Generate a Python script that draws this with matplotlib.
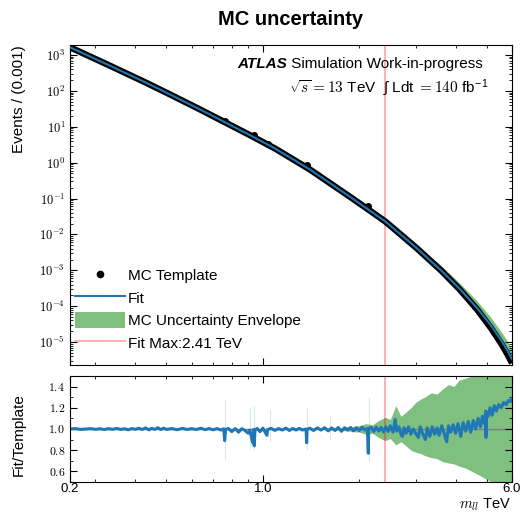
import numpy as np
import matplotlib
matplotlib.use("Agg")
import matplotlib.pyplot as plt
from matplotlib.lines import Line2D
from matplotlib.ticker import (FixedLocator, FixedFormatter, MultipleLocator,
                               FormatStrFormatter, LogLocator, NullFormatter,
                               FuncFormatter)

plt.rcParams['font.family'] = ['Liberation Sans', 'DejaVu Sans']
plt.rcParams['mathtext.fontset'] = 'cm'

# fit curve (events per 0.001 TeV)
fit_mass = [0.25, 0.333, 0.429, 0.50, 0.637, 0.912, 1.092, 1.40, 1.60, 1.872, 2.10,
            2.409, 2.75, 3.032, 3.628, 4.129, 4.667, 5.125, 5.35, 5.586, 5.80, 6.00]
fit_events = [1639, 503, 173.6, 89.1, 30.3, 5.82, 2.471, 0.651, 0.290, 0.1115, 0.0547,
              0.02317, 8.52e-3, 4.05e-3, 9.38e-4, 2.96e-4, 8.91e-5, 3.13e-5, 1.795e-5,
              1.026e-5, 5.85e-6, 3.34e-6]
# uncertainty envelope around the fit (relative), upper panel
band_hi = [1, 1, 1, 1, 1, 1, 1, 1, 1, 1.02, 1.04, 1.10, 1.15, 1.22, 1.35, 1.47, 1.57,
           1.65, 1.70, 1.75, 1.82, 1.90]
band_lo = [0.97, 0.97, 0.97, 0.97, 0.97, 0.97, 0.97, 0.97, 0.97, 0.97, 0.97, 0.97,
           0.97, 0.97, 0.97, 0.97, 0.97, 0.97, 0.97, 0.97, 0.97, 0.97]

# MC template (dense bins) and the few bins that stick out of the band
tmpl_mass = [0.25, 0.333, 0.429, 0.50, 0.637, 0.912, 1.092, 1.40, 1.60, 1.872, 2.10,
             2.409, 2.75, 3.032, 3.628, 4.129, 4.667, 5.125, 5.35, 5.586, 5.80, 6.00]
tmpl_events = [1639, 503, 173.6, 89.1, 30.3, 5.82, 2.471, 0.651, 0.290, 0.1115, 0.0547,
               0.02317, 8.52e-3, 4.05e-3, 9.3e-4, 2.85e-4, 8.1e-5, 2.65e-5, 1.50e-5,
               8.34e-6, 4.64e-6, 2.59e-6]
tmpl_out_mass = [0.762, 0.94, 1.04, 1.37, 2.135]
tmpl_out_events = [14.9, 6.03, 3.31, 0.839, 0.0638]

# ratio fit / template
ratio_mass = [0.25, 0.26, 0.27, 0.28, 0.29, 0.30, 0.31, 0.32, 0.33, 0.34, 0.35, 0.36,
              0.37, 0.38, 0.39, 0.40, 0.41, 0.42, 0.43, 0.44, 0.45, 0.46, 0.47, 0.48,
              0.49, 0.50, 0.52, 0.54, 0.56, 0.58, 0.60, 0.62, 0.64, 0.66, 0.68, 0.70,
              0.72, 0.74, 0.755, 0.76, 0.765, 0.78, 0.80, 0.82, 0.84, 0.86, 0.88, 0.90,
              0.91, 0.93, 0.935, 0.94, 0.945, 0.96, 0.98, 1.00, 1.03, 1.035, 1.06, 1.09,
              1.12, 1.15, 1.18, 1.21, 1.24, 1.27, 1.30, 1.33, 1.365, 1.37, 1.375, 1.40,
              1.44, 1.48, 1.52, 1.56, 1.60, 1.64, 1.68, 1.72, 1.76, 1.80, 1.84, 1.88,
              1.92, 1.96, 2.00, 2.04, 2.08, 2.12, 2.135, 2.14, 2.18, 2.22, 2.26, 2.30,
              2.34, 2.38, 2.42, 2.46, 2.50, 2.55, 2.59, 2.62, 2.66, 2.70, 2.73, 2.76,
              2.80, 2.85, 2.90, 2.95, 3.00, 3.06, 3.10, 3.16, 3.22, 3.26, 3.32, 3.38,
              3.44, 3.50, 3.55, 3.62, 3.68, 3.75, 3.80, 3.86, 3.93, 4.00, 4.07, 4.15,
              4.22, 4.30, 4.38, 4.46, 4.54, 4.62, 4.70, 4.78, 4.85, 4.92, 4.97, 4.975,
              4.98, 5.05, 5.12, 5.20, 5.28, 5.36, 5.45, 5.55, 5.65, 5.75, 5.85, 5.95, 6.00]
ratio_vals = [1.000, 1.004, 0.996, 1.000, 1.003, 0.997, 1.002, 0.995, 1.003, 0.997,
              1.005, 0.996, 1.002, 0.992, 1.004, 0.997, 1.007, 0.995, 1.010, 0.993,
              1.005, 0.996, 1.012, 0.994, 1.008, 0.996, 1.004, 0.993, 1.005, 0.996,
              1.003, 0.995, 1.007, 0.994, 1.004, 0.992, 1.004, 0.990, 1.002, 0.890,
              0.995, 1.005, 0.975, 1.004, 0.970, 1.003, 0.985, 0.960, 0.990, 0.870,
              0.995, 0.840, 0.990, 1.005, 0.975, 1.008, 0.940, 0.995, 1.006, 0.987,
              1.004, 0.990, 1.008, 0.986, 1.005, 0.990, 1.006, 0.990, 1.000, 0.870,
              0.995, 1.008, 0.986, 1.010, 0.990, 1.012, 0.982, 1.010, 0.986, 1.014,
              0.978, 1.012, 0.990, 1.014, 0.982, 1.012, 0.986, 1.018, 0.990, 1.005,
              0.770, 1.000, 1.015, 0.976, 1.018, 0.980, 1.015, 0.972, 1.020, 0.976,
              1.030, 0.970, 1.090, 0.980, 1.020, 0.950, 0.930, 1.010, 0.960, 1.020,
              0.950, 1.000, 0.960, 0.920, 1.020, 0.950, 0.900, 1.010, 0.930, 1.020,
              0.950, 1.010, 0.940, 1.030, 0.960, 0.880, 1.030, 0.970, 1.040, 0.960,
              1.050, 0.930, 1.060, 0.980, 1.070, 0.970, 1.080, 1.000, 1.100, 1.020,
              1.120, 1.050, 1.170, 0.920, 1.150, 1.120, 1.200, 1.130, 1.220, 1.170,
              1.230, 1.200, 1.250, 1.230, 1.270, 1.260, 1.290]

# uncertainty envelope in the ratio panel
env_mass = [0.25, 1.50, 1.70, 1.85, 2.00, 2.10, 2.20, 2.30, 2.41, 2.50, 2.60, 2.70,
            2.80, 2.90, 3.00, 3.10, 3.20, 3.35, 3.50, 3.65, 3.80, 3.95, 4.10, 4.30,
            4.50, 4.70, 4.90, 5.10, 5.30, 5.50, 5.70, 6.00]
env_hi = [1.00, 1.005, 1.01, 1.02, 1.03, 1.05, 1.04, 1.08, 1.11, 1.09, 1.22, 1.12,
          1.16, 1.20, 1.25, 1.28, 1.30, 1.34, 1.33, 1.38, 1.42, 1.40, 1.46, 1.48,
          1.50, 1.53, 1.58, 1.63, 1.70, 1.78, 1.84, 1.92]
env_lo = [1.00, 0.995, 0.99, 0.98, 0.97, 0.95, 0.96, 0.92, 0.89, 0.91, 0.85, 0.88,
          0.84, 0.80, 0.78, 0.77, 0.75, 0.73, 0.72, 0.69, 0.68, 0.67, 0.65, 0.63,
          0.60, 0.57, 0.54, 0.51, 0.48, 0.45, 0.42, 0.38]
# single bins with a large uncertainty at low mass
spike_mass = [0.44, 0.76, 0.91, 0.94, 1.05, 1.37, 1.62, 2.14]
spike_lo = [0.97, 0.72, 0.82, 0.80, 0.88, 0.80, 0.90, 0.70]
spike_hi = [1.03, 1.28, 1.20, 1.22, 1.18, 1.20, 1.12, 1.30]

fit_max = 2.41

fig = plt.figure(figsize=(5.21, 5.14), dpi=100)
ax = fig.add_axes([0.1344, 0.2899, 0.8484, 0.6226])
rax = fig.add_axes([0.1344, 0.0623, 0.8484, 0.2062], sharex=ax)

fit = np.array(fit_events)
band = ax.fill_between(fit_mass, fit * np.array(band_lo), fit * np.array(band_hi),
                       color='green', alpha=0.5, lw=0, zorder=1)
vl = ax.axvline(fit_max, color='red', alpha=0.3, lw=1.5, zorder=1.5)
ax.plot(tmpl_mass, tmpl_events, color='k', lw=4.6, solid_capstyle='butt',
        solid_joinstyle='round', zorder=2)
ax.plot(tmpl_out_mass, tmpl_out_events, 'o', color='k', ms=4, zorder=2)
fl, = ax.plot(fit_mass, fit_events, color='#1f77b4', lw=1.5, zorder=3)
dot = Line2D([], [], color='k', marker='o', ls='none', ms=4.5)

ax.set_xscale('log')
ax.set_yscale('log')
ax.set_xlim(0.25, 6.0)
ax.set_ylim(2.3e-6, 1.9e3)
ax.yaxis.set_major_locator(LogLocator(base=10, numticks=20))
ax.yaxis.set_minor_locator(LogLocator(base=10, subs=np.arange(2, 10), numticks=20))
ax.yaxis.set_major_formatter(FuncFormatter(lambda v, p: r'$10^{%d}$' % round(np.log10(v))))
ax.yaxis.set_minor_formatter(NullFormatter())
ax.set_ylabel('Events / (0.001)', fontsize=11, loc='top')
ax.yaxis.set_label_coords(-0.1, 1.0)

ax.legend([dot, fl, band, vl],
          ['MC Template', 'Fit', 'MC Uncertainty Envelope', 'Fit Max:%.2f TeV' % fit_max],
          loc='lower left', bbox_to_anchor=(0.0, 0.03), frameon=False, fontsize=11,
          handlelength=3.3, handleheight=1.3, handletextpad=0.2, labelspacing=0.38,
          borderaxespad=0.0, borderpad=0.3)

t = ax.text(0.378, 0.94, 'ATLAS', transform=ax.transAxes, fontsize=11,
            fontweight='bold', fontstyle='italic', va='center')
ax.annotate(' Simulation Work-in-progress', xy=(1, 0), xycoords=t, fontsize=11,
            va='bottom', ha='left')
ax.text(0.9457, 0.868, r'$\sqrt{s} = 13$ TeV  ∫ Ldt $= 140$ fb$^{\mathregular{-1}}$',
        transform=ax.transAxes, fontsize=11, ha='right', va='center')

# ratio panel
rax.fill_between(env_mass, env_lo, env_hi, color='green', alpha=0.5, lw=0, zorder=1)
rax.vlines(spike_mass, spike_lo, spike_hi, color='green', alpha=0.15, lw=0.8, zorder=1)
rax.axhline(1.0, color='gray', lw=1, zorder=1.5)
rax.axvline(fit_max, color='red', alpha=0.3, lw=1.5, zorder=1.6)
rax.plot(ratio_mass, ratio_vals, color='#1f77b4', lw=2.2, zorder=2)
rax.set_ylim(0.5, 1.5)
rax.yaxis.set_major_locator(MultipleLocator(0.2))
rax.yaxis.set_minor_locator(MultipleLocator(0.1))
rax.yaxis.set_major_formatter(FormatStrFormatter('$%.1f$'))
rax.set_ylabel('Fit/Template', fontsize=11)
rax.yaxis.set_label_coords(-0.1, 0.45)
# x label sits in the bottom right corner of the figure
fig.text(0.982, 0.002, r'$m_{ll}$ TeV', fontsize=10.5, ha='right', va='bottom')

rax.xaxis.set_major_locator(FixedLocator([0.25, 1.0, 6.0]))
rax.xaxis.set_major_formatter(FixedFormatter(['0.2', '1.0', '6.0']))
rax.xaxis.set_minor_locator(FixedLocator([0.3, 0.4, 0.5, 0.6, 0.7, 0.8, 0.9, 2, 3, 4, 5]))
rax.xaxis.set_minor_formatter(NullFormatter())

for a in (ax, rax):
    a.tick_params(which='both', direction='in', top=True, right=True)
    a.tick_params(which='major', length=5, labelsize=10)
    a.tick_params(which='minor', length=2.5)
ax.tick_params(labelbottom=False)
ax.tick_params(axis='y', labelsize=9)
rax.tick_params(axis='y', labelsize=8.5)
rax.tick_params(axis='x', pad=1, labelsize=9.5)

fig.text(0.5586, 0.962, 'MC uncertainty', ha='center', va='center', fontsize=14.5,
         fontweight='bold')

fig.savefig('out.png', dpi=100)
